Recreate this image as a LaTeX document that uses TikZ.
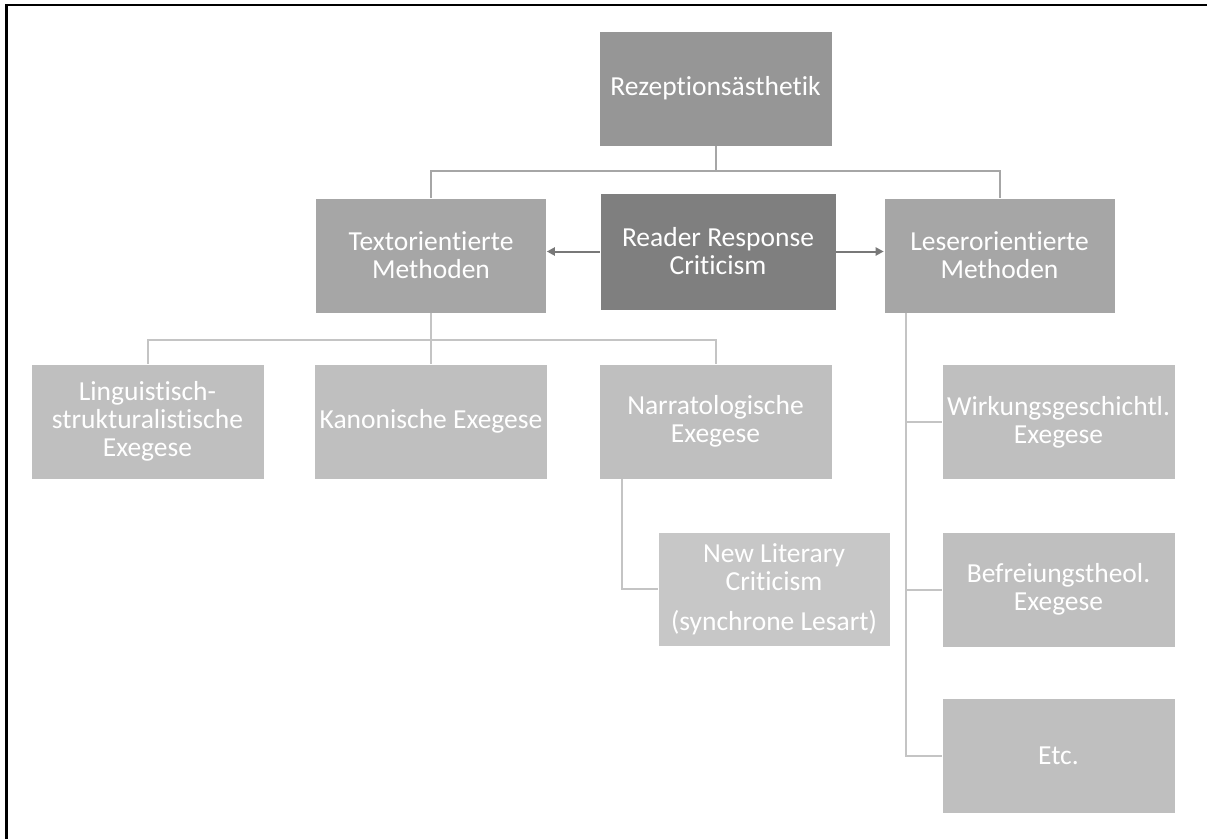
\documentclass[tikz,border=0pt]{standalone}
\usepackage{fontspec}
\setmainfont{Carlito}[Ligatures=NoCommon]
\usetikzlibrary{arrows.meta,calc}
\definecolor{boxtop}{RGB}{150,150,150}
\definecolor{boxmid}{RGB}{166,166,166}
\definecolor{boxdark}{RGB}{127,127,127}
\definecolor{boxlow}{RGB}{191,191,191}
\definecolor{boxlight}{RGB}{199,199,199}
\definecolor{linkA}{RGB}{166,166,166}
\definecolor{linkB}{RGB}{196,196,196}
\definecolor{arrowgray}{RGB}{120,120,120}
\tikzset{
  box/.style={rectangle, draw=white, line width=0.6pt, inner sep=2pt,
    minimum width=233pt, minimum height=115pt, text=white, align=center,
    font=\fontsize{27.5}{28}\selectfont},
  linkmain/.style={draw=linkA, line width=2pt},
  linksub/.style={draw=linkB, line width=2pt},
  arr/.style={draw=arrowgray, line width=2pt, -{Triangle[length=8pt,width=8pt]}},
}
\begin{document}
\begin{tikzpicture}[x=1pt,y=-1pt]
\useasboundingbox (0,0) rectangle (1207,839);
\fill[white] (0,0) rectangle (1207,839);
% frame edges
\draw[black, line width=2.2pt] (6.5,839) -- (6.5,5) -- (1207,5);

% boxes
\node[box, fill=boxtop] (rez) at (715.5,88.5) {Rezeptionsästhetik};
\node[box, fill=boxmid, minimum width=231pt] (txt) at (431,255.5) {Textorientierte\\Methoden};
\node[box, fill=boxdark, minimum width=236pt, minimum height=117pt] (rrc) at (718,251.5) {Reader Response\\Criticism};
\node[box, fill=boxmid, minimum width=231pt] (les) at (999.5,255.5) {Leserorientierte\\Methoden};

\node[box, fill=boxlow] (lin) at (147.5,421.5) {Linguistisch-\\strukturalistische\\Exegese};
\node[box, fill=boxlow] (kan) at (431,421.5) {Kanonische Exegese};
\node[box, fill=boxlow] (nar) at (715.5,421.5) {Narratologische\\Exegese};
\node[box, fill=boxlight, minimum width=232pt, minimum height=114pt] (nlc) at (774,589)
  {New Literary\\Criticism\\[12pt](synchrone Lesart)};

\node[box, fill=boxlow] (wir) at (1058.5,422) {Wirkungsgeschichtl.\\Exegese};
\node[box, fill=boxlow] (bef) at (1058.5,589.5) {Befreiungstheol.\\Exegese};
\node[box, fill=boxlow] (etc) at (1058.5,755.5) {Etc.};

% top level links
\coordinate (j1) at (715.5,171);
\draw[linkmain] (rez.south) -- (j1);
\draw[linkmain] (txt.north) |- (j1) -| (les.north);

% text oriented methods
\coordinate (j2) at (431,340);
\draw[linksub] (txt.south) -- (j2);
\draw[linksub] (lin.north) |- (j2) -| (nar.north);
\draw[linksub] (kan.north) -- (j2);
\draw[linksub] ([xshift=-93.5pt]nar.south) |- (nlc.west);

% reader oriented methods
\coordinate (trunk) at ([xshift=22pt]les.south west);
\draw[linksub] (trunk) |- (etc.west);
\draw[linksub] (wir.west) -- (wir.west -| trunk);
\draw[linksub] (bef.west) -- (bef.west -| trunk);

% arrows from the centre box
\draw[arr] (rrc.west) -- (rrc.west -| txt.east);
\draw[arr] (rrc.east) -- (rrc.east -| les.west);
\end{tikzpicture}
\end{document}
